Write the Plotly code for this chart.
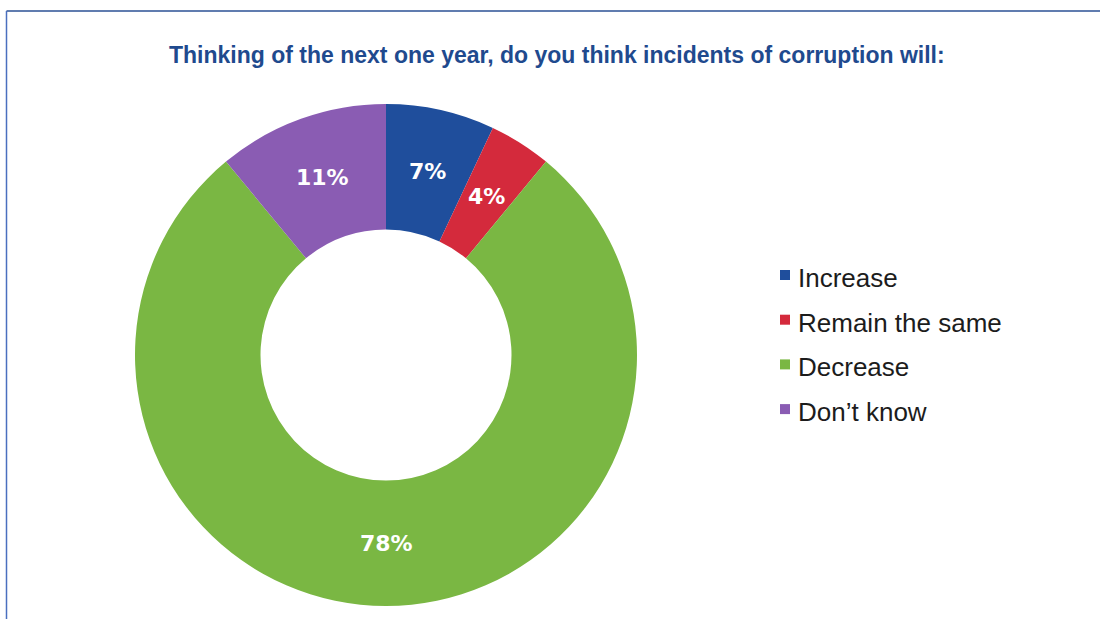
import math
import plotly.graph_objects as go

W, H = 1100, 619

categories = ["Increase", "Remain the same", "Decrease", "Don\u2019t know"]
shares = [7, 4, 78, 11]
colors = ["#1f4e9c", "#d42a3c", "#7ab743", "#8a5cb3"]

title_text = "Thinking of the next one year, do you think incidents of corruption will:"

# donut geometry in pixels
cx, cy, radius = 386, 355, 251
hole = 0.5


def px_x(x):
    return x / W


def px_y(y):
    return 1 - y / H


fig = go.Figure(
    go.Pie(
        labels=categories,
        values=shares,
        hole=hole,
        sort=False,
        direction="clockwise",
        rotation=0,
        marker=dict(colors=colors, line=dict(width=0)),
        textinfo="none",
        domain=dict(
            x=[px_x(cx - radius), px_x(cx + radius)],
            y=[px_y(cy + radius), px_y(cy - radius)],
        ),
        showlegend=False,
        hoverinfo="label+percent",
    )
)

shapes = [
    # frame: top and left rules
    dict(type="line", xref="paper", yref="paper", x0=px_x(6.5), x1=1, y0=px_y(11), y1=px_y(11),
         line=dict(color="#2b5195", width=1.5)),
    dict(type="line", xref="paper", yref="paper", x0=px_x(6.5), x1=px_x(6.5), y0=px_y(11), y1=0,
         line=dict(color="#4a6fbf", width=1.5)),
]

annotations = [
    dict(text=title_text, x=px_x(557), y=px_y(55), xref="paper", yref="paper",
         xanchor="center", yanchor="middle", showarrow=False,
         font=dict(family="Liberation Sans, Arial, sans-serif", size=23, color="#1f4a8e", weight="bold")),
]

# percentage labels centred on the middle of the ring for each slice
total = sum(shares)
mid_r = radius * (1 + hole) / 2
cum = 0
for v in shares:
    ang = 2 * math.pi * (cum + v / 2) / total
    cum += v
    lx = cx + mid_r * math.sin(ang)
    ly = cy - mid_r * math.cos(ang)
    annotations.append(dict(text=f"{v}%", x=px_x(lx), y=px_y(ly), xref="paper", yref="paper",
                            xanchor="center", yanchor="middle", showarrow=False,
                            font=dict(family="DejaVu Sans, sans-serif", size=22, color="white",
                                      weight="bold")))

# legend entries
legend_top, legend_step = 278, 44.7
for i, (name, col) in enumerate(zip(categories, colors)):
    yc = legend_top + i * legend_step
    shapes.append(dict(type="rect", xref="paper", yref="paper",
                       x0=px_x(780), x1=px_x(790), y0=px_y(yc - 5 - 3), y1=px_y(yc + 5 - 3),
                       fillcolor=col, line=dict(width=0)))
    annotations.append(dict(text=name, x=px_x(796), y=px_y(yc), xref="paper", yref="paper",
                            xanchor="left", yanchor="middle", showarrow=False,
                            font=dict(family="Liberation Sans, Arial, sans-serif", size=26, color="#1c1c1c")))

fig.update_layout(
    width=W,
    height=H,
    margin=dict(l=0, r=0, t=0, b=0),
    paper_bgcolor="white",
    plot_bgcolor="white",
    shapes=shapes,
    annotations=annotations,
)

fig.write_html("out.html")
